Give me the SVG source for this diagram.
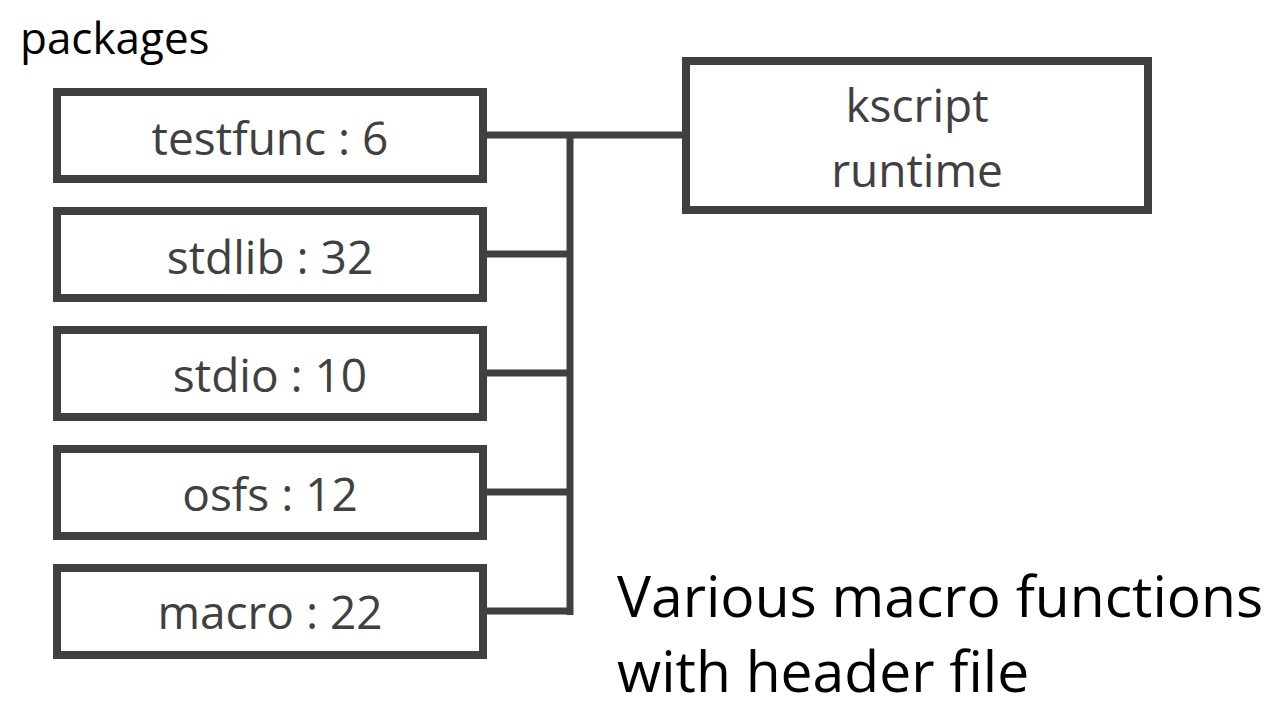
<svg xmlns="http://www.w3.org/2000/svg" width="1280" height="720" viewBox="0 0 1280 720">
<style>
.box{fill:#fff;stroke:#404040;stroke-width:8}
.lbl{font-family:"Open Sans","Noto Sans",sans-serif;font-size:46px;fill:#404040;text-anchor:middle}
.wire{stroke:#404040;stroke-width:7;fill:none}
.plain{font-family:"Open Sans","Noto Sans",sans-serif;fill:#000}
</style>
<rect width="1280" height="720" fill="#fff"/>
<text class="plain" x="20" y="54" font-size="44">packages</text>
<g id="connectors">
<path class="wire" d="M487 135 H682 M570 135 V615 M487 254 H570 M487 373 H570 M487 492 H570 M487 611 H573"/>
</g>
<g id="testfunc"><rect class="box" x="57" y="92" width="426" height="87"/><text class="lbl" x="270" y="155">testfunc : 6</text></g>
<g id="stdlib"><rect class="box" x="57" y="211" width="426" height="87"/><text class="lbl" x="270" y="274">stdlib : 32</text></g>
<g id="stdio"><rect class="box" x="57" y="330" width="426" height="87"/><text class="lbl" x="270" y="392">stdio : 10</text></g>
<g id="osfs"><rect class="box" x="57" y="449" width="426" height="87"/><text class="lbl" x="270" y="511">osfs : 12</text></g>
<g id="macro"><rect class="box" x="57" y="568" width="426" height="87"/><text class="lbl" x="270" y="629">macro : 22</text></g>
<g id="kscript"><rect class="box" x="686" y="61" width="462" height="149"/><text class="lbl" x="917" y="122">kscript</text><text class="lbl" x="917" y="187">runtime</text></g>
<g id="caption"><text class="plain" x="617" y="617" font-size="57">Various macro functions</text><text class="plain" x="617" y="692" font-size="57">with header file</text></g>
</svg>
